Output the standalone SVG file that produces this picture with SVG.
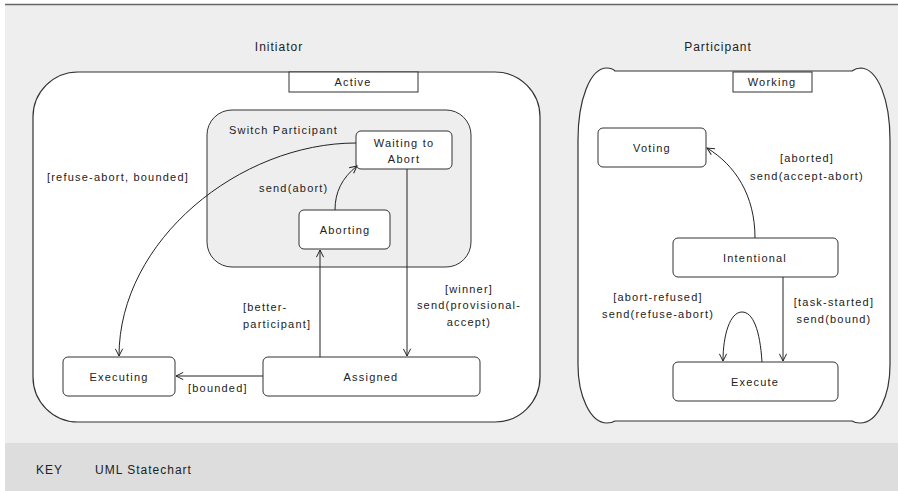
<svg xmlns="http://www.w3.org/2000/svg" width="898" height="491" viewBox="0 0 898 491">
<defs>
<marker id="arr" viewBox="0 0 10 10" refX="9" refY="5" markerWidth="9" markerHeight="9" markerUnits="userSpaceOnUse" orient="auto">
<path d="M1,1 L9,5 L1,9" fill="none" stroke="#222" stroke-width="1.1"/>
</marker>
<style>
text{font-family:"Liberation Sans",Arial,sans-serif;font-size:11px;letter-spacing:1.2px;fill:#222}
.t{font-size:12px;letter-spacing:1px}
.c{text-anchor:middle}
.box{fill:#fff;stroke:#333;stroke-width:1}
.cont{fill:#fff;stroke:#333;stroke-width:1.2}
.edge{fill:none;stroke:#222;stroke-width:1;marker-end:url(#arr)}
</style>
</defs>
<rect x="0" y="0" width="898" height="491" fill="#fff"/>
<rect x="5" y="5" width="893" height="438" fill="#eeeeee"/>
<rect x="5" y="443" width="893" height="48" fill="#dddddd"/>
<line x1="5" y1="4.5" x2="898" y2="4.5" stroke="#666" stroke-width="1.5"/>

<text class="t c" x="279" y="51">Initiator</text>
<text class="t c" x="718" y="51">Participant</text>

<g id="initiator">
<rect class="cont" x="33" y="72" width="507" height="350" rx="45" ry="45"/>
</g>
<g id="active-tab">
<rect class="box" x="289" y="72" width="129" height="20" rx="0"/>
<text class="c" x="353" y="86">Active</text>
</g>
<g id="switch-participant">
<rect x="207" y="110" width="264" height="157" rx="25" ry="25" fill="#eeeeee" stroke="#333" stroke-width="1"/>
<text x="229" y="134">Switch Participant</text>
</g>
<g id="waiting">
<rect class="box" x="356" y="131" width="96" height="38" rx="5"/>
<text class="c" x="404" y="147">Waiting to</text>
<text class="c" x="404" y="163">Abort</text>
</g>
<g id="aborting">
<rect class="box" x="299" y="210" width="91" height="39" rx="5"/>
<text class="c" x="345" y="234">Aborting</text>
</g>
<g id="executing">
<rect class="box" x="63" y="357" width="112" height="39" rx="5"/>
<text class="c" x="119" y="381">Executing</text>
</g>
<g id="assigned">
<rect class="box" x="263" y="357" width="217" height="39" rx="5"/>
<text class="c" x="371" y="381">Assigned</text>
</g>

<g id="participant">
<path class="cont" d="M615,71 L852,71 Q856,68 861,68 C878,69 890,100 890,140 L890,365 C890,395 878,423 860,423 Q855,423 852,421 L615,421 Q612,423 607,423 C590,423 578,395 578,365 L578,140 C578,100 590,68 607,68 Q612,68 615,71 Z"/>
</g>
<g id="working-tab">
<rect class="box" x="733" y="72" width="79" height="20"/>
<text class="c" x="772" y="86">Working</text>
</g>
<g id="voting">
<rect class="box" x="598" y="128" width="108" height="39" rx="5"/>
<text class="c" x="652" y="152">Voting</text>
</g>
<g id="intentional">
<rect class="box" x="673" y="238" width="165" height="39" rx="5"/>
<text class="c" x="755" y="262">Intentional</text>
</g>
<g id="execute">
<rect class="box" x="673" y="362" width="165" height="39" rx="5"/>
<text class="c" x="755" y="386">Execute</text>
</g>

<g id="connectors">
<path class="edge" d="M335,210 C335,192 342,178 357,166"/>
<path class="edge" d="M356,143 C240,143 119,240 119,356"/>
<path class="edge" d="M320,357 L320,250"/>
<path class="edge" d="M407,169 L407,356"/>
<path class="edge" d="M263,376 L176,376"/>
<path class="edge" d="M755,238 C755,195 735,165 707,148"/>
<path class="edge" d="M783,277 L783,361"/>
<path class="edge" d="M762,362 C760,330 753,312 742,312 C730,312 723,335 723,361"/>
</g>

<g id="labels">
<text x="47" y="181">[refuse-abort, bounded]</text>
<text x="259" y="192">send(abort)</text>
<text x="243" y="311">[better-</text>
<text x="243" y="328">participant]</text>
<text class="c" x="469" y="293">[winner]</text>
<text class="c" x="469" y="309">send(provisional-</text>
<text class="c" x="469" y="326">accept)</text>
<text x="188" y="392">[bounded]</text>
<text class="c" x="807" y="162">[aborted]</text>
<text class="c" x="807" y="180">send(accept-abort)</text>
<text class="c" x="658" y="301">[abort-refused]</text>
<text class="c" x="658" y="318">send(refuse-abort)</text>
<text class="c" x="834" y="306">[task-started]</text>
<text class="c" x="834" y="323">send(bound)</text>
</g>

<g id="key">
<text class="t" x="36" y="474">KEY</text>
<text class="t" x="95" y="474">UML Statechart</text>
</g>
</svg>
